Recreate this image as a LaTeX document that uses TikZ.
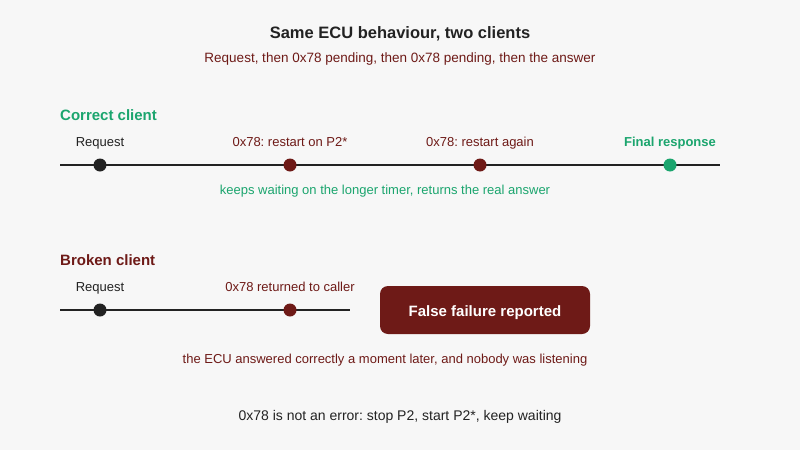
\documentclass[tikz,border=0pt]{standalone}
\usepackage{fontspec}
\setmainfont{Liberation Sans}
\frenchspacing
\definecolor{bg}{HTML}{F7F7F7}
\definecolor{ink}{HTML}{222222}
\definecolor{wine}{HTML}{6E1A17}
\definecolor{okgreen}{HTML}{1BA56E}
\tikzset{
  every node/.style={text height=0.72em,text depth=0pt},
  lbl/.style={font=\fontsize{13}{15}\selectfont,inner sep=0pt},
  head/.style={font=\fontsize{15}{18}\bfseries\selectfont,inner sep=0pt,anchor=west},
  dot/.style={circle,inner sep=0pt,minimum size=13pt,fill=#1,text height=,text depth=},
  track/.style={line width=2pt,ink}
}
\begin{document}
\begin{tikzpicture}[x=1pt,y=-1pt]
\fill[bg] (0,0) rectangle (800,450);
\node[font=\fontsize{16.5}{19}\bfseries\selectfont,ink] (title) at (400,35) {Same ECU behaviour, two clients};
\node[lbl,wine,font=\fontsize{13.5}{16}\selectfont] (sub) at (400,59) {Request, then 0x78 pending, then 0x78 pending, then the answer};
% correct client
\node[head,okgreen] (hgood) at (60,117) {Correct client};
\coordinate (g0) at (60,165);
\coordinate (g1) at (720,165);
\draw[track] (g0) -- (g1);
\node[dot=ink] (ga) at (100,165) {};
\node[dot=wine] (gb) at (290,165) {};
\node[dot=wine] (gc) at (480,165) {};
\node[dot=okgreen] (gd) at (670,165) {};
\node[lbl,ink] (gla) at (100,143) {Request};
\node[lbl,wine] (glb) at (290,143) {0x78: restart on P2*};
\node[lbl,wine] (glc) at (480,143) {0x78: restart again};
\node[lbl,okgreen,font=\fontsize{13}{15}\bfseries\selectfont] (gld) at (670,143) {Final response};
\node[lbl,okgreen] (gnote) at (385,191) {keeps waiting on the longer timer, returns the real answer};
% broken client
\node[head,wine] (hbad) at (60,262) {Broken client};
\coordinate (b0) at (60,310);
\coordinate (b1) at (350,310);
\draw[track] (b0) -- (b1);
\node[dot=ink] (ba) at (100,310) {};
\node[dot=wine] (bb) at (290,310) {};
\node[lbl,ink] (bla) at (100,288) {Request};
\node[lbl,wine] (blb) at (290,288) {0x78 returned to caller};
\node[fill=wine,rounded corners=8pt,minimum width=210pt,minimum height=48pt,text=white,font=\fontsize{15}{18}\bfseries\selectfont,text height=12.8pt] (fail) at (485,310) {False failure reported};
\node[lbl,wine] (bnote) at (385,360) {the ECU answered correctly a moment later, and nobody was listening};
\node[lbl,ink,font=\fontsize{14}{17}\selectfont] (rule) at (400,417) {0x78 is not an error: stop P2, start P2*, keep waiting};
\end{tikzpicture}
\end{document}
